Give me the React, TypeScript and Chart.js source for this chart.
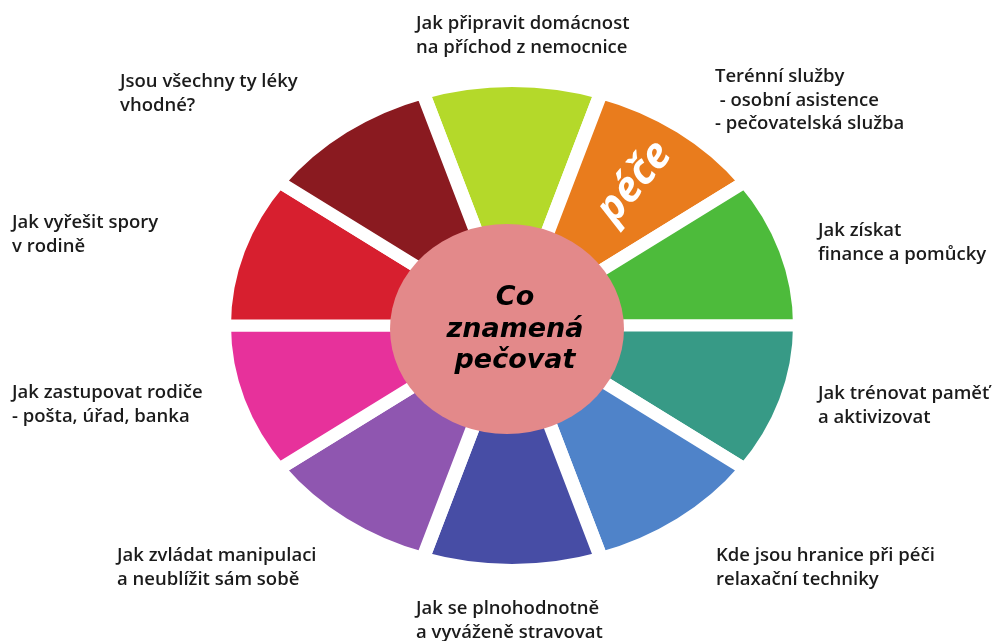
import React, { useEffect, useRef } from "react";
import { Chart, registerables } from "chart.js";

Chart.register(...registerables);

// ---- data ----
const TOPICS: string[][] = [
  ["Jak připravit domácnost", "na příchod z nemocnice"],
  ["Terénní služby", " - osobní asistence", "- pečovatelská služba"],
  ["Jak získat", "finance a pomůcky"],
  ["Jak trénovat paměť", "a aktivizovat"],
  ["Kde jsou hranice při péči", "relaxační techniky"],
  ["Jak se plnohodnotně", "a vyváženě stravovat"],
  ["Jak zvládat manipulaci", "a neublížit sám sobě"],
  ["Jak zastupovat rodiče", "- pošta, úřad, banka"],
  ["Jak vyřešit spory", "v rodině"],
  ["Jsou všechny ty léky", "vhodné?"],
];
const SHARES: number[] = [1, 1, 1, 1, 1, 1, 1, 1, 1, 1];
const SEGMENT_COLORS: string[] = [
  "#b4d92a",
  "#e97c1d",
  "#4dbb3b",
  "#379a86",
  "#4f83c9",
  "#474da5",
  "#8f56b0",
  "#e7319b",
  "#d71f2f",
  "#8a1a20",
];
const CENTER_TITLE: string[] = ["Co", "znamená", "pečovat"];
const SEGMENT_TAG = "péče";
const SEGMENT_TAG_INDEX = 1;

// ---- layout (offsets relative to wheel centre, first-line baseline, left aligned) ----
const LABEL_OFFSETS: [number, number][] = [
  [-96, -296.5],
  [203, -243.5],
  [306, -89.5],
  [306, 73.5],
  [204, 235.5],
  [-96, 288.5],
  [-395, 235.5],
  [-500, 72.5],
  [-500, -97.5],
  [-392, -238.5],
];
const LINE_HEIGHT = 23.5;
const STRETCH_X = 281 / 238.5;
const GAP = 12;

const ellipticalPlugin = {
  id: "ellipticalWheel",
  beforeDatasetsDraw(chart: any) {
    const arc = chart.getDatasetMeta(0).data[0];
    if (!arc) return;
    const { x, y } = arc;
    const ctx = chart.ctx;
    ctx.save();
    ctx.translate(x, y);
    ctx.scale(STRETCH_X, 1);
    ctx.translate(-x, -y);
  },
  afterDatasetsDraw(chart: any) {
    const ctx = chart.ctx;
    ctx.restore();
    const arc = chart.getDatasetMeta(0).data[0];
    if (!arc) return;
    const cx = arc.x;
    const cy = arc.y;

    // centre ellipse
    ctx.save();
    ctx.beginPath();
    ctx.ellipse(cx - 5, cy + 3.5, 117, 105, 0, 0, Math.PI * 2);
    ctx.fillStyle = "#e3898a";
    ctx.fill();

    // centre title
    ctx.fillStyle = "#000";
    ctx.font = "bold oblique 27px 'DejaVu Sans'";
    ctx.textAlign = "center";
    ctx.textBaseline = "alphabetic";
    CENTER_TITLE.forEach((t, i) => {
      ctx.fillText(t, cx + 3, cy - 20.5 + i * 31.5);
    });
    ctx.restore();

    // tag inside a segment
    const seg = chart.getDatasetMeta(0).data[SEGMENT_TAG_INDEX];
    if (seg) {
      const mid = (seg.startAngle + seg.endAngle) / 2;
      const r = (seg.innerRadius + seg.outerRadius) / 2 + 18;
      const tx = cx + Math.cos(mid) * r * STRETCH_X;
      const ty = cy + Math.sin(mid) * r;
      ctx.save();
      ctx.translate(tx, ty);
      ctx.rotate((-50 * Math.PI) / 180);
      ctx.fillStyle = "#ffffff";
      ctx.font = "italic 700 42px 'Open Sans'";
      ctx.textAlign = "center";
      ctx.textBaseline = "middle";
      ctx.fillText(SEGMENT_TAG, 0, 0);
      ctx.restore();
    }

    // outer labels
    ctx.save();
    ctx.fillStyle = "#1b1b1b";
    ctx.font = "600 18.5px 'Open Sans'";
    ctx.textAlign = "left";
    ctx.textBaseline = "alphabetic";
    TOPICS.forEach((lines, i) => {
      const [dx, dy] = LABEL_OFFSETS[i];
      lines.forEach((line, j) => {
        ctx.fillText(line, cx + dx, cy + dy + j * LINE_HEIGHT);
      });
    });
    ctx.restore();
  },
};

export default function App() {
  const canvasRef = useRef<HTMLCanvasElement | null>(null);

  useEffect(() => {
    const canvas = canvasRef.current;
    if (!canvas) return;
    const chart = new Chart(canvas, {
      type: "doughnut",
      data: {
        labels: TOPICS.map((l) => l.join(" ")),
        datasets: [
          {
            data: SHARES,
            backgroundColor: SEGMENT_COLORS,
            borderColor: "#ffffff",
            borderWidth: GAP,
            hoverBorderWidth: GAP,
            borderJoinStyle: "miter",
            offset: 0,
            hoverOffset: 0,
          } as any,
        ],
      },
      options: {
        animation: false,
        responsive: false,
        rotation: -18,
        cutout: "30%",
        events: [],
        layout: { padding: { left: 212, right: 183, top: 75, bottom: 65 } },
        plugins: {
          legend: { display: false },
          tooltip: { enabled: false },
        },
      },
      plugins: [ellipticalPlugin],
    });
    return () => chart.destroy();
  }, []);

  return (
    <div style={{ position: "absolute", left: 0, top: 0, width: 995, height: 641, background: "#fff" }}>
      <canvas ref={canvasRef} width={995} height={641} style={{ width: 995, height: 641, display: "block" }} />
    </div>
  );
}
